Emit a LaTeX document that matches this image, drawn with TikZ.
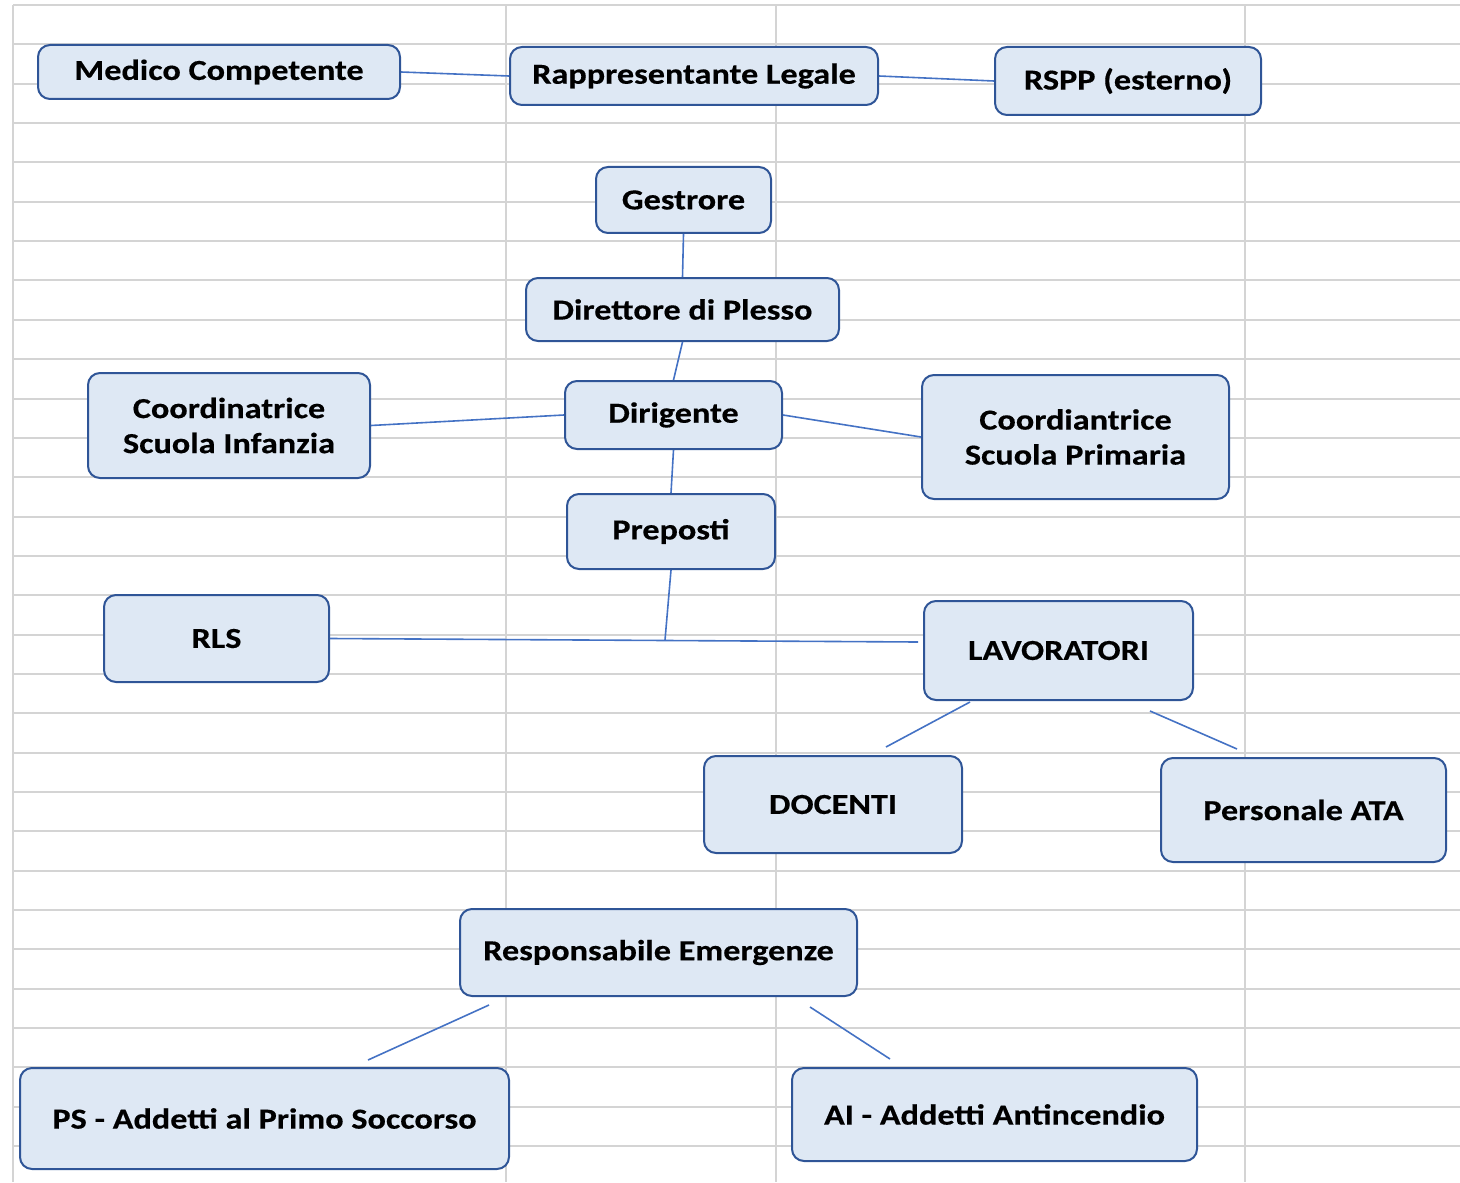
\documentclass[tikz,border=0pt]{standalone}
\usepackage{fontspec}
\setmainfont{Carlito}[FakeStretch=1.18,BoldFeatures={FakeBold=0.4}]
\definecolor{gridc}{HTML}{D4D4D4}
\definecolor{boxf}{HTML}{DEE8F4}
\definecolor{boxd}{HTML}{2F5597}
\definecolor{linec}{HTML}{4472C4}
\begin{document}
\begin{tikzpicture}[x=0.5pt,y=-0.5pt,
  orgbox/.style={draw=boxd,fill=boxf,line width=1pt,rounded corners=6pt,
    font=\fontsize{14.5}{17.5}\selectfont\bfseries,align=center,inner sep=0pt},
  conn/.style={draw=linec,line width=0.8pt},
  gridline/.style={draw=gridc,line width=1pt}]
\useasboundingbox (0,0) rectangle (1460,1182);
% grid
\foreach \k in {0,...,29}{
  \draw[gridline] (13,{5+39.35*\k}) -- (1460,{5+39.35*\k});
}
\foreach \xx in {13,506,776,1245}{
  \draw[gridline] (\xx,5) -- (\xx,1182);
}
% nodes
\node[orgbox,minimum width=181pt,minimum height=27pt] (med) at (219,72) {Medico Competente};
\node[orgbox,minimum width=184pt,minimum height=29pt] (rap) at (694,76) {Rappresentante Legale};
\node[orgbox,minimum width=133pt,minimum height=34pt] (rspp) at (1128,81) {RSPP (esterno)};
\node[orgbox,minimum width=87.5pt,minimum height=33pt] (gest) at (683.5,200) {Gestrore};
\node[orgbox,minimum width=156.5pt,minimum height=31.5pt] (dir) at (682.5,309.5) {Direttore di Plesso};
\node[orgbox,minimum width=141pt,minimum height=52.5pt] (coi) at (229,425.5) {Coordinatrice\\Scuola Infanzia};
\node[orgbox,minimum width=108.5pt,minimum height=34pt] (dirig) at (673.5,415) {Dirigente};
\node[orgbox,minimum width=153.5pt,minimum height=62pt] (cop) at (1075.5,437) {Coordiantrice\\Scuola Primaria};
\node[orgbox,minimum width=104pt,minimum height=37.5pt] (prep) at (671,531.5) {Preposti};
\node[orgbox,minimum width=112.5pt,minimum height=43.5pt] (rls) at (216.5,638.5) {RLS};
\node[orgbox,minimum width=134.5pt,minimum height=49.5pt] (lav) at (1058.5,650.5) {LAVORATORI};
\node[orgbox,minimum width=129pt,minimum height=48.5pt] (doc) at (833,804.5) {DOCENTI};
\node[orgbox,minimum width=142.5pt,minimum height=52pt] (ata) at (1303.5,810) {Personale ATA};
\node[orgbox,minimum width=198.5pt,minimum height=43.5pt] (resp) at (658.5,952.5) {Responsabile Emergenze};
\node[orgbox,minimum width=244.5pt,minimum height=50.5pt] (ps) at (264.5,1118.5) {PS - Addetti al Primo Soccorso};
\node[orgbox,minimum width=202.5pt,minimum height=46.5pt] (ai) at (994.5,1114.5) {AI - Addetti Antincendio};
% free coordinates
\coordinate (junc) at (665,640);
\coordinate (lavend) at (918,642);
\coordinate (la1) at (970,702);
\coordinate (la2) at (886,747);
\coordinate (lb1) at (1150,711);
\coordinate (lb2) at (1237,749);
\coordinate (ra1) at (489,1005);
\coordinate (ra2) at (368,1060);
\coordinate (rb1) at (810,1007);
\coordinate (rb2) at (890,1059);
% connectors
\draw[conn] (med.east) -- (rap.west);
\draw[conn] (rap.east) -- (rspp.west);
\draw[conn] (gest.south) -- (dir.north);
\draw[conn] (dir.south) -- (dirig.north);
\draw[conn] (coi.east) -- (dirig.west);
\draw[conn] (dirig.east) -- (cop.west);
\draw[conn] (dirig.south) -- (prep.north);
\draw[conn] (prep.south) -- (junc);
\draw[conn] (rls.east) -- (lavend);
\draw[conn] (la1) -- (la2);
\draw[conn] (lb1) -- (lb2);
\draw[conn] (ra1) -- (ra2);
\draw[conn] (rb1) -- (rb2);
\end{tikzpicture}
\end{document}
